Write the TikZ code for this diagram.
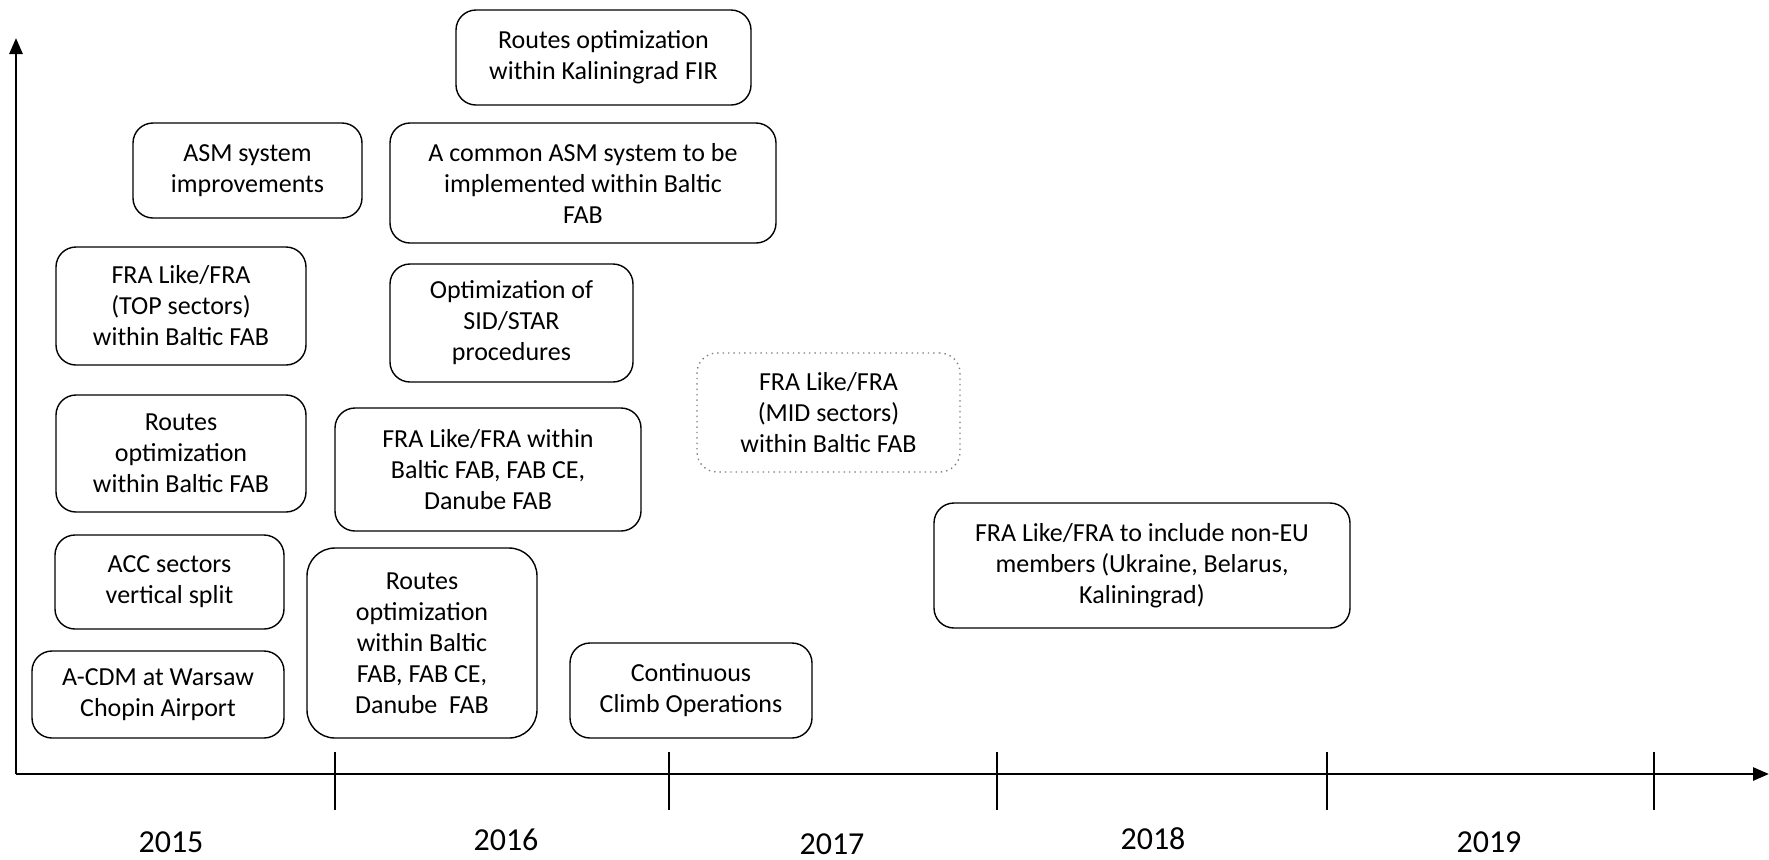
\documentclass[tikz,border=0pt]{standalone}
\usepackage{fontspec}
\setmainfont{Carlito}
\usetikzlibrary{arrows.meta, positioning}

\begin{document}
\begin{tikzpicture}[x=0.5pt,y=-0.5pt,font=\fontsize{13}{15.5}\selectfont,
    box/.style={draw,rounded corners=10pt,line width=0.7pt,align=center,inner sep=2pt},
    axis/.style={-{Triangle[length=8pt,width=6.5pt]},line width=1.4pt},
    tick/.style={line width=0.7pt},
    yr/.style={font=\fontsize{16}{19}\selectfont}]
    \useasboundingbox (0,0) rectangle (1769,859);
    % axes
    \coordinate (o) at (16,774);
    \coordinate (ytop) at (16,38);
    \coordinate (xend) at (1769,774);
    \draw[axis](o)--(ytop);
    \draw[axis](o)--(xend);
    \foreach \x in {335,669,997,1327,1654}
      \draw[tick](\x,752)--(\x,810);
    \foreach \yr/\x/\y in {2015/171/842,2016/506/840,2017/832/844,2018/1153/839,2019/1489/842}
      \node[yr](y\yr) at (\x,\y){\yr};
    % measures
    \node[box,minimum width=147.5pt,minimum height=47.5pt](kalin) at (603.5,57.5){Routes optimization\\within Kaliningrad FIR};
    \node[box,minimum width=114.5pt,minimum height=47.5pt](asmimp) at (247.5,170.5){ASM system\\improvements};
    \node[box,minimum width=193pt,minimum height=60pt](asmcom) at (583,183){A common ASM system to be\\implemented within Baltic\\FAB};
    \node[box,minimum width=125pt,minimum height=59pt](fratop) at (181,306){FRA Like/FRA\\(TOP sectors)\\within Baltic FAB};
    \node[box,minimum width=121.5pt,minimum height=59pt](sidstar) at (511.5,323){Optimization of\\SID/STAR\\procedures};
    \node[box,draw=gray,dotted,minimum width=131.5pt,minimum height=59.5pt](framid) at (828.5,412.5){FRA Like/FRA\\(MID sectors)\\within Baltic FAB};
    \node[box,minimum width=125pt,minimum height=58.5pt](rtbaltic) at (181,453.5){Routes\\optimization\\within Baltic FAB};
    \node[box,minimum width=153pt,minimum height=61.5pt](fraall) at (488,469.5){FRA Like/FRA within\\Baltic FAB, FAB CE,\\Danube FAB};
    \node[box,minimum width=208pt,minimum height=62.5pt](franoneu) at (1142,565.5){FRA Like/FRA to include non-EU\\members (Ukraine, Belarus,\\Kaliningrad)};
    \node[box,minimum width=114.5pt,minimum height=47pt](accsplit) at (169.5,582){ACC sectors\\vertical split};
    \node[box,rounded corners=14pt,minimum width=115pt,minimum height=95pt](rtall) at (422,643){Routes\\optimization\\within Baltic\\FAB, FAB CE,\\Danube\ \ FAB};
    \node[box,minimum width=126pt,minimum height=43.5pt](acdm) at (158,694.5){A-CDM at Warsaw\\Chopin Airport};
    \node[box,minimum width=121pt,minimum height=47.5pt](cco) at (691,690.5){Continuous\\Climb Operations};
  \end{tikzpicture}
\end{document}
